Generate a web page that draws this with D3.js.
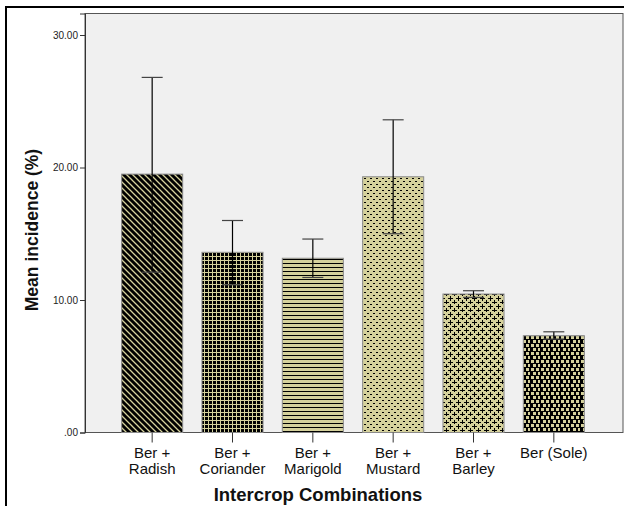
<!DOCTYPE html>
<html>
<head>
<meta charset="utf-8">
<script src="https://cdn.jsdelivr.net/npm/d3@7"></script>
<style>
  html, body { margin: 0; padding: 0; background: #fff; }
  svg { display: block; font-family: "Liberation Sans", Arial, sans-serif; }
</style>
</head>
<body>
<svg id="chart" width="624" height="506"></svg>
<script>
// data
const categories = [['Ber +', 'Radish'], ['Ber +', 'Coriander'], ['Ber +', 'Marigold'],
                    ['Ber +', 'Mustard'], ['Ber +', 'Barley'], ['Ber (Sole)']];
const means = [19.5, 13.6, 13.15, 19.3, 10.45, 7.3];
const errLow = [12.1, 11.15, 11.7, 15.0, 10.2, 7.05];
const errHigh = [26.8, 16.0, 14.6, 23.6, 10.7, 7.6];
const yTicks = [0, 10, 20, 30];
const patternIds = ['diag', 'grid', 'hlines', 'dashes', 'plus', 'zig'];

const svg = d3.select('#chart');
const tan = '#d5d19c';

// ---------- patterns ----------
const defs = svg.append('defs');
function pat(id, w, h) {
  return defs.append('pattern').attr('id', id)
    .attr('patternUnits', 'userSpaceOnUse')
    .attr('width', w).attr('height', h);
}
// diagonal stripes, down-right
let p = pat('diag', 6, 6);
p.append('rect').attr('width', 6).attr('height', 6).attr('fill', '#000');
p.append('path').attr('d', 'M-1,-1 L7,7 M-4,2 L4,10 M2,-4 L10,4')
  .attr('stroke', tan).attr('stroke-width', 1.3);
// grid
p = pat('grid', 4, 4);
p.append('rect').attr('width', 4).attr('height', 4).attr('fill', '#000');
p.append('path').attr('d', 'M0,0.5 H4 M0.5,0 V4').attr('stroke', tan).attr('stroke-width', 1);
// horizontal lines
p = pat('hlines', 4, 4);
p.append('rect').attr('width', 4).attr('height', 4).attr('fill', tan);
p.append('rect').attr('y', 3).attr('width', 4).attr('height', 1).attr('fill', '#000');
// dashes
p = pat('dashes', 6, 6);
p.append('rect').attr('width', 6).attr('height', 6).attr('fill', tan);
p.append('rect').attr('x', 1).attr('y', 1).attr('width', 2).attr('height', 1).attr('fill', '#000');
p.append('rect').attr('x', 4).attr('y', 4).attr('width', 2).attr('height', 1).attr('fill', '#000');
// plus signs
p = pat('plus', 8, 8);
p.append('rect').attr('width', 8).attr('height', 8).attr('fill', tan);
p.append('path').attr('d', 'M0,2.5 H5 M2.5,0 V5 M4,6.5 H9 M6.5,4 V9 M-4,6.5 H1')
  .attr('stroke', '#000').attr('stroke-width', 1);
// zigzag squares
p = pat('zig', 10, 8);
p.append('rect').attr('width', 10).attr('height', 8).attr('fill', '#000');
[[1, 0], [3, 4], [6, 0], [8, 4]].forEach(([x, y]) =>
  p.append('rect').attr('x', x).attr('y', y).attr('width', 3).attr('height', 3).attr('fill', tan));

// ---------- frame and plot area ----------
svg.append('rect').attr('x', 6).attr('y', 7).attr('width', 640).attr('height', 520)
  .attr('fill', 'none').attr('stroke', '#000').attr('stroke-width', 2);

const plot = { left: 85, right: 623, top: 13.5, bottom: 432.5 };
svg.append('rect')
  .attr('x', plot.left).attr('y', plot.top)
  .attr('width', plot.right - plot.left).attr('height', plot.bottom - plot.top)
  .attr('fill', '#f0f0f0').attr('stroke', '#555').attr('stroke-width', 1);

const x = d3.scaleBand()
  .domain(d3.range(categories.length))
  .range([112, 594])
  .paddingInner(0.24)
  .paddingOuter(0.12);

const y = d3.scaleLinear()
  .domain([0, (plot.bottom - plot.top) / 13.25])
  .range([plot.bottom, plot.top]);

// ---------- bars ----------
svg.append('g').selectAll('rect')
  .data(means)
  .join('rect')
    .attr('x', (d, i) => x(i))
    .attr('y', d => y(d))
    .attr('width', x.bandwidth())
    .attr('height', d => y(0) - y(d))
    .attr('fill', (d, i) => `url(#${patternIds[i]})`)
    .attr('stroke', '#8a8a8a')
    .attr('stroke-width', 1);

// ---------- error bars ----------
const eb = svg.append('g').attr('stroke', '#000').attr('stroke-width', 1.2);
means.forEach((m, i) => {
  const cx = x(i) + x.bandwidth() / 2;
  eb.append('line').attr('x1', cx).attr('x2', cx)
    .attr('y1', y(errLow[i])).attr('y2', y(errHigh[i]));
  [errLow[i], errHigh[i]].forEach(v => {
    eb.append('line').attr('x1', cx - 10.5).attr('x2', cx + 10.5)
      .attr('y1', y(v)).attr('y2', y(v)).attr('stroke', '#444');
  });
});

// ---------- axes ----------
const yAxis = svg.append('g')
  .attr('transform', `translate(${plot.left},0)`)
  .call(d3.axisLeft(y).tickValues(yTicks).tickSize(5).tickPadding(2)
    .tickFormat(d => d === 0 ? '.00' : d3.format('.2f')(d)));
yAxis.select('.domain').attr('stroke', '#333');
yAxis.selectAll('.tick line').attr('stroke', '#333');
yAxis.selectAll('text').attr('fill', '#222').style('font-size', '10px')
  .style('font-family', '"Liberation Sans", Arial, sans-serif');

const xAxis = svg.append('g')
  .attr('transform', `translate(0,${plot.bottom})`)
  .call(d3.axisBottom(x).tickSize(10).tickFormat(''));
xAxis.select('.domain').remove();
xAxis.selectAll('.tick line').attr('stroke', '#333');

const xl = svg.append('g').selectAll('text')
  .data(categories)
  .join('text')
    .attr('x', (d, i) => x(i) + x.bandwidth() / 2)
    .attr('y', 458)
    .attr('text-anchor', 'middle')
    .attr('fill', '#111')
    .style('font-size', '15px');
xl.selectAll('tspan')
  .data(d => d)
  .join('tspan')
    .attr('x', function () { return d3.select(this.parentNode).attr('x'); })
    .attr('dy', (d, i) => i === 0 ? 0 : 16)
    .text(d => d);

// ---------- titles ----------
svg.append('text')
  .attr('x', 318).attr('y', 501)
  .attr('text-anchor', 'middle')
  .style('font-size', '18.5px').style('font-weight', 'bold')
  .attr('fill', '#111')
  .text('Intercrop Combinations');

svg.append('text')
  .attr('transform', 'translate(38,230) rotate(-90)')
  .attr('text-anchor', 'middle')
  .style('font-size', '17.5px').style('font-weight', 'bold')
  .attr('fill', '#111')
  .text('Mean incidence (%)');
</script>
</body>
</html>
